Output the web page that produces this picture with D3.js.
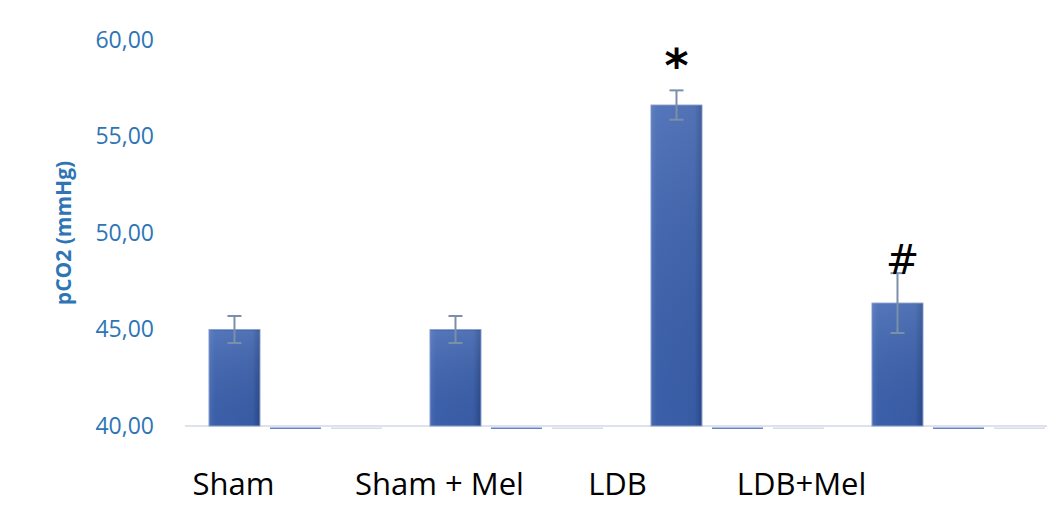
<!DOCTYPE html>
<html>
<head>
<meta charset="utf-8">
<script src="https://cdn.jsdelivr.net/npm/d3@7"></script>
<style>
  html, body { margin: 0; padding: 0; background: #fff; }
  svg { display: block; font-family: "Open Sans", "Noto Sans", sans-serif; }
</style>
</head>
<body>
<svg id="chart" width="1047" height="508"></svg>
<script>
// chart values
const categories = ["Sham", "Sham + Mel", "LDB", "LDB+Mel"];
const seriesNames = ["pCO2", "s2", "s3"];
const meanValues = [45.0, 45.0, 56.63, 46.37];
const errorValues = [0.7, 0.7, 0.76, 1.55];
const emptySeries2 = [40, 40, 40, 40];
const emptySeries3 = [40, 40, 40, 40];
const marks = ["", "", "*", "#"];
const yTicks = [40, 45, 50, 55, 60];

// layout
const plotLeft = 185, groupStep = 221, plotTop = 40, plotBase = 426;
const labelShift = [-62, -77, -120, -157];
const blue = "#2e75b6";

const svg = d3.select("#chart");

const x = d3.scaleBand()
  .domain(categories)
  .range([plotLeft, plotLeft + groupStep * categories.length])
  .padding(0);

const xs = d3.scaleBand()
  .domain(seriesNames)
  .range([0, x.bandwidth()])
  .paddingInner(10 / 61)
  .paddingOuter(0.393);

const y = d3.scaleLinear().domain([40, 60]).range([plotBase, plotTop]);

// gradient for the bars
const defs = svg.append("defs");
const grad = defs.append("linearGradient").attr("id", "barGrad")
  .attr("x1", "0").attr("x2", "1").attr("y1", "0").attr("y2", "0");
grad.append("stop").attr("offset", "0%").attr("stop-color", "#4a6fba");
grad.append("stop").attr("offset", "12%").attr("stop-color", "#3d63b0");
grad.append("stop").attr("offset", "85%").attr("stop-color", "#3a5fab");
grad.append("stop").attr("offset", "100%").attr("stop-color", "#2a4a8c");
const gradV = defs.append("linearGradient").attr("id", "barShade")
  .attr("x1", "0").attr("x2", "0").attr("y1", "0").attr("y2", "1");
gradV.append("stop").attr("offset", "0%").attr("stop-color", "#fff").attr("stop-opacity", 0.12);
gradV.append("stop").attr("offset", "100%").attr("stop-color", "#000").attr("stop-opacity", 0.04);

// y axis tick labels
svg.append("g")
  .selectAll("text")
  .data(yTicks)
  .join("text")
  .attr("x", 154)
  .attr("y", d => y(d))
  .attr("dy", "0.34em")
  .attr("text-anchor", "end")
  .attr("font-size", 23)
  .attr("fill", blue)
  .text(d => d3.format(".2f")(d).replace(".", ","));

// axis title
svg.append("text")
  .attr("transform", `translate(71,${(plotTop + plotBase) / 2}) rotate(-90)`)
  .attr("text-anchor", "middle")
  .attr("font-size", 21)
  .attr("font-weight", "bold")
  .attr("fill", blue)
  .text("pCO2 (mmHg)");

// baseline
svg.append("line")
  .attr("x1", plotLeft).attr("x2", 1047)
  .attr("y1", y(40)).attr("y2", y(40))
  .attr("stroke", "#dde2ec")
  .attr("stroke-width", 2);

// empty series (value at the baseline)
const emptyColors = { s2: "#6584cc", s3: "#d7dce8" };
[["s2", emptySeries2], ["s3", emptySeries3]].forEach(([name, vals]) => {
  svg.append("g")
    .selectAll("rect")
    .data(vals)
    .join("rect")
    .attr("x", (d, i) => x(categories[i]) + xs(name))
    .attr("y", d => y(d) + 1.5)
    .attr("width", xs.bandwidth())
    .attr("height", 1.5)
    .attr("fill", emptyColors[name]);
});

// main bars
const bars = svg.append("g");
bars.selectAll("rect.bar")
  .data(meanValues)
  .join("rect")
  .attr("class", "bar")
  .attr("x", (d, i) => x(categories[i]) + xs("pCO2"))
  .attr("y", d => y(d))
  .attr("width", xs.bandwidth())
  .attr("height", d => y(40) - y(d))
  .attr("fill", "url(#barGrad)")
  .attr("stroke", "#8ea2cc")
  .attr("stroke-width", 1);
bars.selectAll("rect.shade")
  .data(meanValues)
  .join("rect")
  .attr("class", "shade")
  .attr("x", (d, i) => x(categories[i]) + xs("pCO2") + 1)
  .attr("y", d => y(d) + 1)
  .attr("width", xs.bandwidth() - 2)
  .attr("height", d => y(40) - y(d) - 1)
  .attr("fill", "url(#barShade)");

// error bars
const errCol = "#7c8fa8";
const err = svg.append("g")
  .selectAll("g")
  .data(meanValues)
  .join("g")
  .attr("transform", (d, i) => `translate(${x(categories[i]) + xs("pCO2") + xs.bandwidth() / 2},0)`);
err.append("line")
  .attr("y1", (d, i) => y(d + errorValues[i]))
  .attr("y2", (d, i) => y(d - errorValues[i]))
  .attr("stroke", errCol).attr("stroke-width", 2);
err.append("line")
  .attr("x1", -7).attr("x2", 7)
  .attr("y1", (d, i) => y(d + errorValues[i]))
  .attr("y2", (d, i) => y(d + errorValues[i]))
  .attr("stroke", errCol).attr("stroke-width", 2);
err.append("line")
  .attr("x1", -7).attr("x2", 7)
  .attr("y1", (d, i) => y(d - errorValues[i]))
  .attr("y2", (d, i) => y(d - errorValues[i]))
  .attr("stroke", errCol).attr("stroke-width", 2);

// significance marks
svg.append("g")
  .selectAll("text")
  .data(marks)
  .join("text")
  .attr("x", (d, i) => x(categories[i]) + xs("pCO2") + xs.bandwidth() / 2 + (d === "#" ? 5 : 0))
  .attr("y", (d, i) => d === "*" ? y(meanValues[i] + errorValues[i]) - 8 : y(meanValues[i] + errorValues[i]) + 1)
  .attr("text-anchor", "middle")
  .attr("font-size", d => d === "*" ? 46 : 40)
  .attr("font-weight", d => d === "*" ? "bold" : "normal")
  .attr("font-family", "'DejaVu Sans', sans-serif")
  .attr("fill", "#000")
  .text(d => d);

// category labels
svg.append("g")
  .selectAll("text")
  .data(categories)
  .join("text")
  .attr("x", (d, i) => x(d) + x.bandwidth() / 2 + labelShift[i])
  .attr("y", 495)
  .attr("text-anchor", "middle")
  .attr("font-size", 31)
  .attr("fill", "#000")
  .text(d => d);
</script>
</body>
</html>
